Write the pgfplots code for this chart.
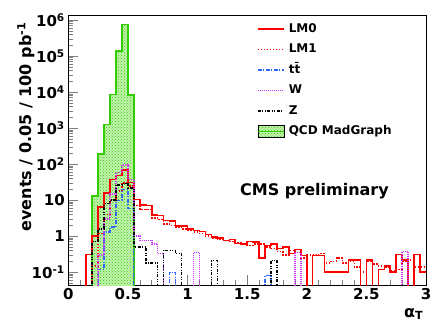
\documentclass[border=0pt]{standalone}
\usepackage{pgfplots}
\pgfplotsset{compat=1.18}
\usepackage{fontspec}
\setmainfont{DejaVu Sans}
\usetikzlibrary{patterns}
\definecolor{rootgreen}{RGB}{51,204,0}
\definecolor{rootfill}{RGB}{195,242,175}
\definecolor{rootblue}{RGB}{51,102,255}
\definecolor{rootviolet}{RGB}{204,51,255}
\definecolor{rootred}{RGB}{255,0,0}
\begin{document}
\begin{tikzpicture}
\useasboundingbox (0,0) rectangle (436pt,327pt);
\begin{axis}[
  at={(68.3pt,42pt)}, anchor=south west,
  width=357.7pt, height=270pt, scale only axis,
  xmin=0, xmax=3, ymode=log, ymin=0.044, ymax=1.39e6,
  axis line style={line width=1pt},
  xtick={0,0.5,1,1.5,2,2.5,3}, xticklabels={0,0.5,1,1.5,2,2.5,3},
  minor x tick num=4,
  ytick={0.1,1,10,100,1000,10000,100000,1000000},
  yticklabels={10\textsuperscript{-1},1,10,10\textsuperscript{2},10\textsuperscript{3},10\textsuperscript{4},10\textsuperscript{5},10\textsuperscript{6}},
  minor ytick={0.05,0.06,0.07,0.08,0.09,
    0.2,0.3,0.4,0.5,0.6,0.7,0.8,0.9,
    2,3,4,5,6,7,8,9,
    20,30,40,50,60,70,80,90,
    200,300,400,500,600,700,800,900,
    2000,3000,4000,5000,6000,7000,8000,9000,
    20000,30000,40000,50000,60000,70000,80000,90000,
    200000,300000,400000,500000,600000,700000,800000,900000},
  xtick pos=bottom, ytick pos=left,
  tick align=inside,
  major tick length=10pt, minor tick length=5pt,
  major tick style={line width=0.6pt},
  minor tick style={line width=0.6pt},
  ticklabel style={font=\fontsize{15}{15}\selectfont\bfseries},
  legend style={at={(axis description cs:0.5275,0.975)}, anchor=north west, draw=none, fill=none,
    font=\fontsize{12}{12}\selectfont\bfseries, row sep=6.5pt, column sep=2pt, inner sep=0pt,
    cells={anchor=west, inner sep=2pt, text height=8.5pt, text depth=2pt}},
  legend cell align=left,
]
% QCD MadGraph
\addplot[const plot, draw=rootgreen, line width=1.5pt, fill=rootfill,
  postaction={pattern=crosshatch dots, pattern color=rootgreen}, forget plot] coordinates {
(0.15,0.001)(0.20,13)(0.25,190)(0.30,1260)(0.35,8700)(0.40,1.38e5)(0.45,7.6e5)(0.50,8300)(0.55,0.001)};
% LM0
\addplot[const plot, color=rootred, line width=1.5pt,
  legend image code/.code={\draw[color=rootred, line width=1.5pt] (0pt,0pt) -- (26pt,0pt);}] coordinates {
(0.10,0.001)(0.15,0.31)(0.20,1.0)(0.25,6.5)(0.30,15.6)(0.35,38)(0.40,49)(0.45,68)(0.50,31)(0.55,10.5)
(0.60,7.3)(0.65,7.0)(0.70,3.9)(0.75,3.8)(0.80,2.7)(0.85,2.6)(0.90,1.9)(0.95,1.9)(1.00,1.6)(1.05,1.45)
(1.10,1.35)(1.15,1.1)(1.20,0.95)(1.25,0.9)(1.30,0.75)(1.35,0.8)(1.40,0.62)(1.45,0.6)(1.50,0.72)(1.55,0.68)
(1.60,0.25)(1.65,0.55)(1.70,0.6)(1.75,0.45)(1.80,0.5)(1.85,0.33)(1.90,0.42)(1.95,0.29)(2.00,0.001)(2.05,0.29)
(2.10,0.29)(2.15,0.10)(2.20,0.10)(2.25,0.10)(2.30,0.10)(2.35,0.22)(2.40,0.22)(2.45,0.001)(2.50,0.22)(2.55,0.001)
(2.60,0.12)(2.65,0.15)(2.70,0.10)(2.75,0.31)(2.80,0.22)(2.85,0.001)(2.90,0.31)(2.95,0.10)(3.00,0.10)};
\addlegendentry{LM0}
% LM1
\addplot[const plot, color=rootred, line width=1.5pt, dash pattern=on 1.5pt off 1.5pt,
  legend image code/.code={\draw[color=rootred, line width=1.5pt, dash pattern=on 1.5pt off 1.5pt] (0pt,0pt) -- (26pt,0pt);}] coordinates {
(0.15,0.001)(0.20,0.15)(0.25,1.2)(0.30,4)(0.35,10)(0.40,18)(0.45,30)(0.50,25)(0.55,7)(0.60,5.5)
(0.65,5.5)(0.70,3.2)(0.75,2.9)(0.80,2.2)(0.85,2.0)(0.90,1.8)(0.95,1.6)(1.00,1.5)(1.05,1.3)(1.10,1.2)
(1.15,1.0)(1.20,0.9)(1.25,0.8)(1.30,0.75)(1.35,0.7)(1.40,0.65)(1.45,0.6)(1.50,0.55)(1.55,0.6)(1.60,0.6)
(1.65,0.5)(1.70,0.45)(1.75,0.38)(1.80,0.3)(1.85,0.4)(1.90,0.35)(1.95,0.25)(2.00,0.3)(2.05,0.3)(2.10,0.33)
(2.15,0.18)(2.20,0.2)(2.25,0.25)(2.30,0.18)(2.35,0.2)(2.40,0.14)(2.45,0.1)(2.50,0.2)(2.55,0.17)(2.60,0.15)
(2.65,0.14)(2.70,0.11)(2.75,0.12)(2.80,0.2)(2.85,0.22)(2.90,0.14)(2.95,0.14)(3.00,0.14)};
\addlegendentry{LM1}
% ttbar
\addplot[const plot, color=rootblue, line width=1.2pt, dash pattern=on 4pt off 1.5pt on 1pt off 1.5pt,
  legend image code/.code={\draw[color=rootblue, line width=1.4pt, dash pattern=on 4pt off 1.5pt on 1pt off 1.5pt] (0pt,0pt) -- (26pt,0pt);}] coordinates {
(0.20,0.001)(0.25,0.12)(0.30,1.3)(0.35,1.8)(0.40,10)(0.45,20)(0.50,6)(0.55,0.001)(0.85,0.1)(0.90,0.001)
(1.65,0.08)(1.70,0.001)(3.00,0.001)};
\addlegendentry{tt̄}
% W
\addplot[const plot, color=rootviolet, line width=1.5pt, dash pattern=on 1pt off 1pt,
  legend image code/.code={\draw[color=rootviolet, line width=1.6pt, dash pattern=on 1pt off 1pt] (0pt,0pt) -- (26pt,0pt);}] coordinates {
(0.20,0.001)(0.25,0.3)(0.30,3)(0.35,15)(0.40,58)(0.45,95)(0.50,38)(0.55,1.0)(0.60,0.77)(0.65,0.77)
(0.70,0.6)(0.75,0.33)(0.80,0.001)(1.05,0.35)(1.10,0.001)(1.90,0.35)(1.95,0.001)(2.80,0.38)(2.85,0.001)(3.00,0.001)};
\addlegendentry{W}
% Z
\addplot[const plot, color=black, line width=1.5pt, dash pattern=on 3pt off 1.5pt on 1pt off 1.5pt on 1pt off 1.5pt,
  legend image code/.code={\draw[color=black, line width=1.6pt, dash pattern=on 3pt off 1.5pt on 1pt off 1.5pt on 1pt off 1.5pt] (0pt,0pt) -- (26pt,0pt);}] coordinates {
(0.15,0.001)(0.20,0.7)(0.25,1.6)(0.30,8)(0.35,10)(0.40,26)(0.45,29)(0.50,22)(0.55,0.5)(0.60,0.5)
(0.65,0.18)(0.70,0.18)(0.75,0.001)(0.80,0.4)(0.85,0.4)(0.90,0.33)(0.95,0.001)(1.20,0.21)(1.25,0.001)
(1.70,0.21)(1.75,0.001)(3.00,0.001)};
\addlegendentry{Z}
\addlegendimage{legend image code/.code={
  \fill[rootfill] (0pt,-6pt) rectangle (26pt,6pt);
  \fill[pattern=crosshatch dots, pattern color=rootgreen] (0pt,-6pt) rectangle (26pt,6pt);
  \draw[rootgreen, line width=1.5pt] (0pt,0pt) -- (26pt,0pt);}}
\addlegendentry{QCD MadGraph}
\end{axis}
\node[font=\fontsize{16}{16}\selectfont\bfseries, anchor=base west, inner sep=0pt] at (240pt,132pt) {CMS preliminary};
\node[rotate=90, font=\fontsize{16}{16}\selectfont\bfseries] at (26pt,200pt) {events / 0.05 / 100 pb\textsuperscript{-1}};
\node[font=\fontsize{16}{16}\selectfont\bfseries, anchor=base west, inner sep=0pt] at (404pt,10pt) {α\textsubscript{T}};
\end{tikzpicture}
\end{document}
